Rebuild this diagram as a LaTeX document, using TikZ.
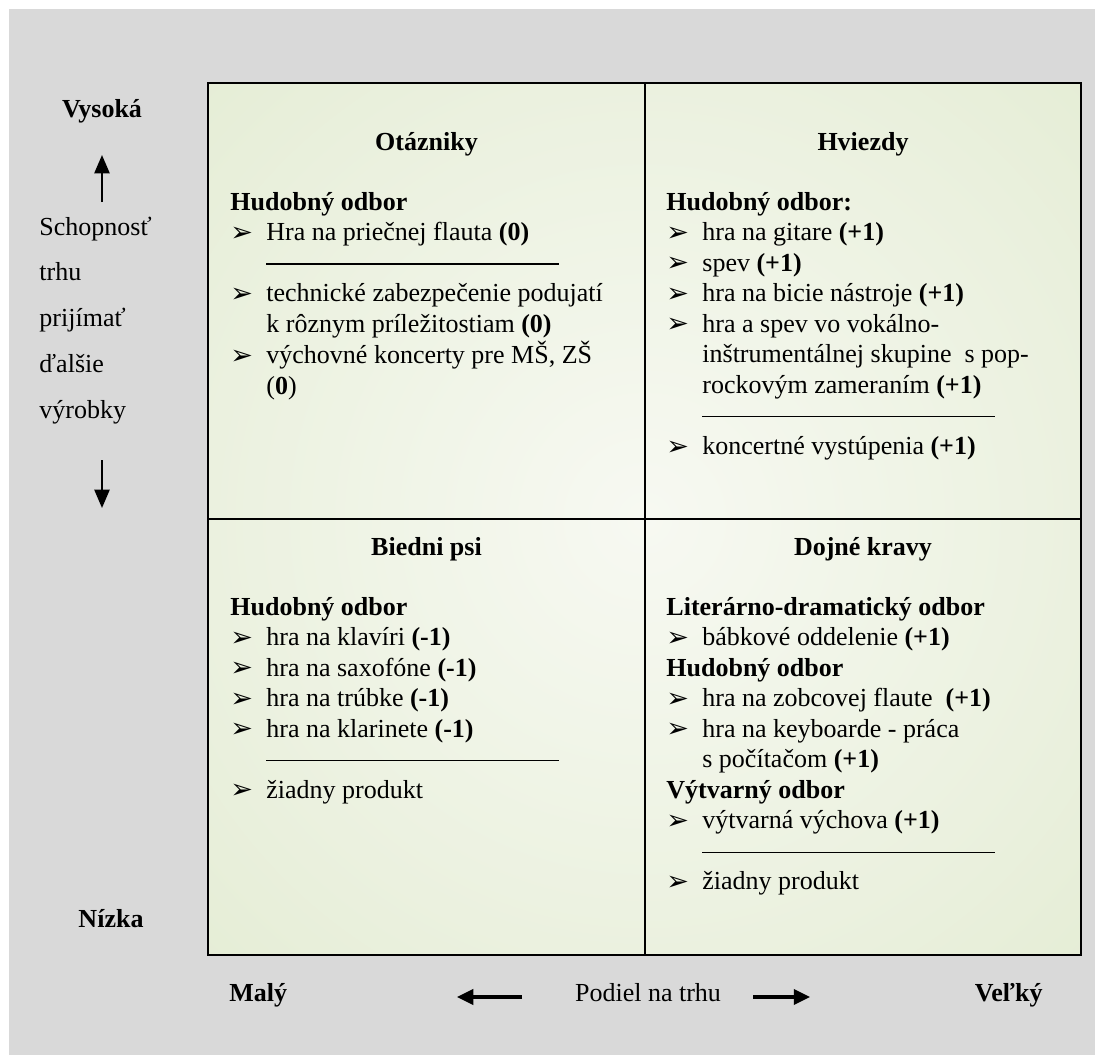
\documentclass[tikz,border=0pt]{standalone}
\usepackage{fontspec}
\setmainfont{Liberation Serif}
\newfontfamily\bulletfont{DejaVu Sans}
\usetikzlibrary{arrows.meta}

\definecolor{pagegray}{HTML}{D9D9D9}
\definecolor{glowin}{HTML}{F7F9F2}
\definecolor{glowmidA}{HTML}{EBF1DF}
\definecolor{glowmidB}{HTML}{DEE8CA}
\definecolor{glowout}{HTML}{D5E2BA}

% soft light centre fading to olive green towards the corners
\pgfdeclareradialshading{quadglow}{\pgfpoint{0bp}{0bp}}{%
  color(0bp)=(glowin); color(25bp)=(glowmidA); color(50bp)=(glowmidB);
  color(70.7bp)=(glowout); color(100bp)=(glowout)}

% bullet of fixed width, text column starts right after it
\newcommand\bul{\makebox[16.6pt][l]{\raisebox{-0.3pt}{\bulletfont\fontsize{12.5}{12}\selectfont ➢}}}
\newcommand\sepline{\rule[3pt]{135pt}{0.6pt}}
\newcommand\head[1]{\multicolumn{2}{@{}l@{}}{\textbf{#1}}}

\begin{document}
\begin{tikzpicture}[x={(0.4615pt,0)}, y={(0,-0.4615pt)},
  lbl/.style={inner sep=0pt, font=\fontsize{12}{14.1}\selectfont},
  boldlbl/.style={lbl, font=\fontsize{12}{14.1}\selectfont\bfseries},
  qtitle/.style={boldlbl, anchor=base},
  qbody/.style={lbl, anchor=base west},
  axisarrow/.style={line width=1pt, -{Triangle[length=8.5pt,width=7pt]}},
  sharearrow/.style={line width=1.4pt, -{Triangle[length=7.5pt,width=7pt]}},
  frameline/.style={line width=1.2pt, black}]

\useasboundingbox (0,0) rectangle (1095,1055);
\fill[white] (0,0) rectangle (1095,1055);
\fill[pagegray] (9,9) rectangle (1095,1055);

% matrix frame
\coordinate (nw) at (208,83);
\coordinate (se) at (1081,955);
\coordinate (midtop) at (645,83);
\coordinate (midbot) at (645,955);
\coordinate (midleft) at (208,519);
\coordinate (midright) at (1081,519);
\shade[shading=quadglow] (nw) rectangle (se);
\draw[frameline] (nw) rectangle (se);
\draw[frameline] (midtop) -- (midbot);
\draw[frameline] (midleft) -- (midright);

% quadrant titles
\node[qtitle] (tq) at (426.5,150) {Otázniky};
\node[qtitle] (ts) at (863,150) {Hviezdy};
\node[qtitle] (td) at (426.5,555) {Biedni psi};
\node[qtitle] (tc) at (863,555) {Dojné kravy};

% quadrant contents
\node[qbody] (bq) at (230,210) {%
\begin{tabular}[t]{@{}p{16.6pt}@{}l@{}}
\head{Hudobný odbor}\\
\bul & Hra na priečnej flauta \textbf{(0)}\\
 & \sepline\\
\bul & technické zabezpečenie podujatí\\
 & k rôznym príležitostiam \textbf{(0)}\\
\bul & výchovné koncerty pre MŠ, ZŠ\\
 & (\textbf{0})
\end{tabular}};

\node[qbody] (bs) at (666,210) {%
\begin{tabular}[t]{@{}p{16.6pt}@{}l@{}}
\head{Hudobný odbor:}\\
\bul & hra na gitare \textbf{(+1)}\\
\bul & spev \textbf{(+1)}\\
\bul & hra na bicie nástroje \textbf{(+1)}\\
\bul & hra a spev vo vokálno-\\
 & inštrumentálnej skupine\ \ s pop-\\
 & rockovým zameraním \textbf{(+1)}\\
 & \sepline\\
\bul & koncertné vystúpenia \textbf{(+1)}
\end{tabular}};

\node[qbody] (bd) at (230,615) {%
\begin{tabular}[t]{@{}p{16.6pt}@{}l@{}}
\head{Hudobný odbor}\\
\bul & hra na klavíri \textbf{(-1)}\\
\bul & hra na saxofóne \textbf{(-1)}\\
\bul & hra na trúbke \textbf{(-1)}\\
\bul & hra na klarinete \textbf{(-1)}\\
 & \sepline\\
\bul & žiadny produkt
\end{tabular}};

\node[qbody] (bc) at (666,615) {%
\begin{tabular}[t]{@{}p{16.6pt}@{}l@{}}
\head{Literárno-dramatický odbor}\\
\bul & bábkové oddelenie \textbf{(+1)}\\
\head{Hudobný odbor}\\
\bul & hra na zobcovej flaute\ \ \textbf{(+1)}\\
\bul & hra na keyboarde - práca\\
 & s počítačom \textbf{(+1)}\\
\head{Výtvarný odbor}\\
\bul & výtvarná výchova \textbf{(+1)}\\
 & \sepline\\
\bul & žiadny produkt
\end{tabular}};

% vertical axis
\node[boldlbl, anchor=base] (high) at (102,117) {Vysoká};
\node[boldlbl, anchor=base] (low) at (111,927) {Nízka};
\node[lbl, anchor=base west] (ability) at (39,235) {%
\fontsize{12}{21.2}\selectfont
\begin{tabular}[t]{@{}l@{}}
Schopnosť\\ trhu\\ prijímať\\ ďalšie\\ výrobky
\end{tabular}};
\coordinate (upfrom) at (102,202);
\coordinate (upto) at (102,155);
\coordinate (downfrom) at (102,460);
\coordinate (downto) at (102,508);
\draw[axisarrow] (upfrom) -- (upto);
\draw[axisarrow] (downfrom) -- (downto);

% horizontal axis
\node[boldlbl, anchor=base west] (small) at (229,1001) {Malý};
\node[boldlbl, anchor=base east] (large) at (1043,1001) {Veľký};
\node[lbl, anchor=base] (share) at (648,1001) {Podiel na trhu};
\coordinate (leftfrom) at (522,997);
\coordinate (leftto) at (457,997);
\coordinate (rightfrom) at (753,997);
\coordinate (rightto) at (810,997);
\draw[sharearrow] (leftfrom) -- (leftto);
\draw[sharearrow] (rightfrom) -- (rightto);
\end{tikzpicture}
\end{document}
